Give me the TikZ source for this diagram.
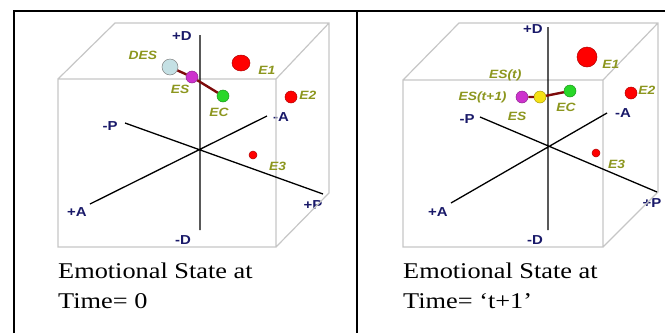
\documentclass[tikz,border=0pt]{standalone}
\usepackage{fontspec}
\setmainfont{Liberation Serif}
\newfontfamily\capf[FakeStretch=1.17,Ligatures=TeX]{Liberation Serif}
\newfontfamily\labf[FakeStretch=1.15]{Liberation Sans}
\usetikzlibrary{positioning,shapes.geometric}
\definecolor{olv}{RGB}{140,150,30}
\definecolor{nvy}{RGB}{25,25,105}
\definecolor{dred}{RGB}{125,10,10}
\definecolor{lblu}{RGB}{196,224,228}
\definecolor{mag}{RGB}{205,50,205}
\definecolor{grn}{RGB}{40,215,40}
\definecolor{ylw}{RGB}{245,225,20}
\tikzset{ax/.style={line width=1.3pt},cb/.style={draw=gray!45,line width=1.2pt},tb/.style={line width=2pt},
 al/.style={font=\labf\bfseries\fontsize{13}{13}\selectfont,text=nvy,inner sep=1pt},
 el/.style={font=\labf\bfseries\itshape\fontsize{12}{12}\selectfont,text=olv,inner sep=1pt},
 blob/.style={circle,draw=#1!70!black,fill=#1,line width=0.5pt,inner sep=0pt},
 emo/.style={blob=red},lk/.style={draw=dred,line width=2.4pt},
 captxt/.style={anchor=base west,inner sep=0pt,font=\capf\fontsize{22.5}{30}\selectfont}}
\begin{document}
\begin{tikzpicture}[x=1pt,y=-1pt]
\useasboundingbox(0,0)rectangle(665,333);
\draw[tb](13.5,333)--(13.5,11)--(665,11) (357,11)--(357,333);
% left panel
\node[al](ldp)at(182,36){+D};\node[al](ldm)at(183,240){-D};\node[al](lpm)at(110,126){-P};\node[al](lpp)at(313,205){+P};
\node[al](lap)at(77,212){+A};\node[al](lam)at(281,117){-A};
\draw[cb](58,79)rectangle(276,247) (58,79)--(115,23)--(329,23)--(329,193)--(276,247) (276,79)--(329,23);
\coordinate(lD1)at(200,35);\coordinate(lD2)at(200,230);\coordinate(lP1)at(125,123);\coordinate(lP2)at(323,194);
\coordinate(lA1)at(90,204);\coordinate(lA2)at(267,116);
\draw[ax](lD1)--(lD2) (lP1)--(lP2) (lA1)--(lA2);
\node[blob=lblu,draw=gray,minimum size=16pt](des)at(170,67){};\node[blob=mag,minimum size=12pt](les)at(192,77){};
\node[blob=grn,minimum size=12pt](lec)at(223,96){};
\node[emo,ellipse,minimum width=18pt,minimum height=16pt](le1)at(241,63){};\node[emo,minimum size=12pt](le2)at(291,97){};
\node[emo,minimum size=8pt](le3)at(253,155){};
\draw[lk](des)--(les)--(lec);
\node[el,above left=0pt and 6pt of des]{DES};\node[el,below left=2pt and -3pt of les]{ES};\node[el,below=5pt of lec,xshift=-4pt]{EC};
\node[el,right=7pt of le1,yshift=-7pt]{E1};\node[el,right=1pt of le2,yshift=2pt]{E2};\node[el,below right=3pt and 12pt of le3]{E3};
\node[captxt](lc1)at(58,278){Emotional State at};\node[captxt](lc2)at(58,308){Time= 0};
% right panel
\node[al](rdp)at(533,29){+D};\node[al](rdm)at(535,240){-D};\node[al](rpm)at(467,119){-P};\node[al](rpp)at(652,203){+P};
\node[al](rap)at(438,212){+A};\node[al](ram)at(623,113){-A};
\draw[cb](403,80)rectangle(603,247) (403,80)--(459,23)--(658,23)--(658,192)--(603,247) (603,80)--(658,23);
\coordinate(rD1)at(548,27);\coordinate(rD2)at(548,230);\coordinate(rP1)at(480,117);\coordinate(rP2)at(657,192);
\coordinate(rA1)at(451,203);\coordinate(rA2)at(607,113);
\draw[ax](rD1)--(rD2) (rP1)--(rP2) (rA1)--(rA2);
\node[blob=mag,minimum size=12pt](res)at(522,97){};\node[blob=ylw,minimum size=12pt](rys)at(540,97){};
\node[blob=grn,minimum size=12pt](rec)at(570,91){};
\node[emo,minimum size=20pt](re1)at(587,57){};\node[emo,minimum size=12pt](re2)at(631,93){};\node[emo,minimum size=8pt](re3)at(596,153){};
\draw[lk](res)--(rys)--(rec);
\node[el,above left=10pt and 13pt of rys]{ES(t)};\node[el,left=8pt of res]{ES(t+1)};\node[el,below=8pt of res,xshift=-5pt]{ES};
\node[el,below=5pt of rec,xshift=-4pt]{EC};
\node[el,right=4pt of re1,yshift=-7pt]{E1};\node[el,right=0pt of re2,yshift=3pt]{E2};\node[el,below right=3pt and 8pt of re3]{E3};
\node[captxt](rc1)at(403,278){Emotional State at};\node[captxt](rc2)at(403,308){Time= `t+1'};
\end{tikzpicture}
\end{document}
